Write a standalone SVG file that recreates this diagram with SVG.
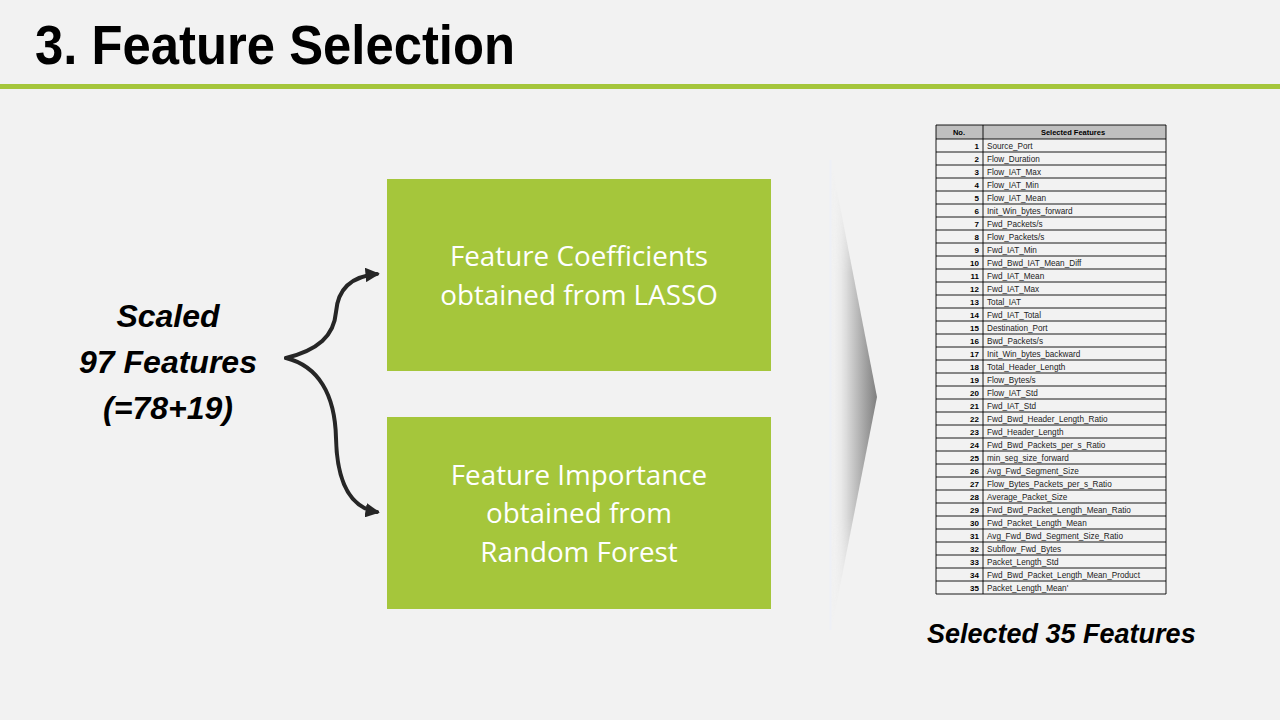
<svg xmlns="http://www.w3.org/2000/svg" width="1280" height="720" viewBox="0 0 1280 720">
  <defs>
    <style>
      .title { font-family: "Liberation Sans", Arial, sans-serif; font-weight: bold; font-size: 56px; fill: #000; }
      .bi { font-family: "Liberation Sans", Arial, sans-serif; font-weight: bold; font-style: italic; fill: #000; }
      .box { fill: #a5c63b; }
      .boxtxt { font-family: "Open Sans", "Liberation Sans", sans-serif; font-size: 27.8px; fill: #ffffff; text-anchor: middle; }
      .conn { fill: none; stroke: #262626; stroke-width: 4; stroke-linecap: round; }
      .cell { font-family: "Liberation Sans", Arial, sans-serif; font-size: 8.2px; fill: #222; }
      .num { font-family: "Liberation Sans", Arial, sans-serif; font-size: 8px; font-weight: bold; fill: #000; text-anchor: end; }
      .hdr { font-family: "Liberation Sans", Arial, sans-serif; font-size: 7.5px; font-weight: bold; fill: #000; text-anchor: middle; }
      .grid { stroke: #000; stroke-width: 0.9; }
    </style>
    <marker id="arrow" viewBox="0 0 10 10" refX="8" refY="5" markerWidth="3.6" markerHeight="3.6" orient="auto" markerUnits="strokeWidth">
      <path d="M0,0 L10,5 L0,10 z" fill="#262626"/>
    </marker>
    <linearGradient id="chev" x1="0" y1="0" x2="1" y2="0">
      <stop offset="0" stop-color="#f2f2f2" stop-opacity="0"/>
      <stop offset="0.35" stop-color="#d9d9d9"/>
      <stop offset="1" stop-color="#7f7f7f"/>
    </linearGradient>
    <linearGradient id="chevFade" x1="0" y1="0" x2="0" y2="1">
      <stop offset="0" stop-color="#fff" stop-opacity="0"/>
      <stop offset="0.25" stop-color="#fff" stop-opacity="1"/>
      <stop offset="0.75" stop-color="#fff" stop-opacity="1"/>
      <stop offset="1" stop-color="#fff" stop-opacity="0"/>
    </linearGradient>
    <mask id="chevMask">
      <rect x="820" y="150" width="70" height="490" fill="url(#chevFade)"/>
    </mask>
  </defs>

  <!-- slide background -->
  <rect x="0" y="0" width="1280" height="720" fill="#f2f2f2"/>

  <!-- heading and rule -->
  <text class="title" x="35" y="64" textLength="480" lengthAdjust="spacingAndGlyphs">3. Feature Selection</text>
  <rect x="0" y="84" width="1280" height="5" fill="#a5c63b"/>

  <!-- input label -->
  <g id="input">
    <text class="bi" font-size="32" text-anchor="middle" x="168" y="327">Scaled</text>
    <text class="bi" font-size="32" text-anchor="middle" x="168" y="373">97 Features</text>
    <text class="bi" font-size="32" text-anchor="middle" x="168" y="419">(=78+19)</text>
  </g>

  <!-- method boxes -->
  <g id="lasso">
    <rect class="box" x="387" y="179" width="384" height="192"/>
    <text class="boxtxt" x="579" y="266">Feature Coefficients</text>
    <text class="boxtxt" x="579" y="305">obtained from LASSO</text>
  </g>
  <g id="random-forest">
    <rect class="box" x="387" y="417" width="384" height="192"/>
    <text class="boxtxt" x="579" y="485">Feature Importance</text>
    <text class="boxtxt" x="579" y="523">obtained from</text>
    <text class="boxtxt" x="579" y="562">Random Forest</text>
  </g>

  <!-- brace connectors -->
  <g id="connectors">
    <path class="conn" marker-end="url(#arrow)" d="M286,358 C318,350 334,336 336,312 C338,287 354,276 377,274"/>
    <path class="conn" marker-end="url(#arrow)" d="M286,358 C318,366 335,394 336,438 C337,486 352,508 377,512"/>
  </g>

  <!-- shaded chevron -->
  <g id="chevron">
    <line x1="830.5" y1="160" x2="830.5" y2="630" stroke="#eef0f6" stroke-width="2"/>
    <polygon points="831,160 877,397 831,632" fill="url(#chev)" mask="url(#chevMask)"/>
  </g>

  <!-- selected feature table -->
  <g id="feature-table">
    <rect x="936" y="125" width="230" height="14" fill="#bfbfbf"/>
    <text class="hdr" x="959" y="135">No.</text>
    <text class="hdr" x="1073" y="135">Selected Features</text>
    <g class="grid">
      <line x1="936" y1="125" x2="1166" y2="125"/>
      <line x1="936" y1="125" x2="936" y2="594"/>
      <line x1="983" y1="125" x2="983" y2="594"/>
      <line x1="1166" y1="125" x2="1166" y2="594"/>
      <line x1="936" y1="139" x2="1166" y2="139"/>
      <line x1="936" y1="152" x2="1166" y2="152"/>
      <line x1="936" y1="165" x2="1166" y2="165"/>
      <line x1="936" y1="178" x2="1166" y2="178"/>
      <line x1="936" y1="191" x2="1166" y2="191"/>
      <line x1="936" y1="204" x2="1166" y2="204"/>
      <line x1="936" y1="217" x2="1166" y2="217"/>
      <line x1="936" y1="230" x2="1166" y2="230"/>
      <line x1="936" y1="243" x2="1166" y2="243"/>
      <line x1="936" y1="256" x2="1166" y2="256"/>
      <line x1="936" y1="269" x2="1166" y2="269"/>
      <line x1="936" y1="282" x2="1166" y2="282"/>
      <line x1="936" y1="295" x2="1166" y2="295"/>
      <line x1="936" y1="308" x2="1166" y2="308"/>
      <line x1="936" y1="321" x2="1166" y2="321"/>
      <line x1="936" y1="334" x2="1166" y2="334"/>
      <line x1="936" y1="347" x2="1166" y2="347"/>
      <line x1="936" y1="360" x2="1166" y2="360"/>
      <line x1="936" y1="373" x2="1166" y2="373"/>
      <line x1="936" y1="386" x2="1166" y2="386"/>
      <line x1="936" y1="399" x2="1166" y2="399"/>
      <line x1="936" y1="412" x2="1166" y2="412"/>
      <line x1="936" y1="425" x2="1166" y2="425"/>
      <line x1="936" y1="438" x2="1166" y2="438"/>
      <line x1="936" y1="451" x2="1166" y2="451"/>
      <line x1="936" y1="464" x2="1166" y2="464"/>
      <line x1="936" y1="477" x2="1166" y2="477"/>
      <line x1="936" y1="490" x2="1166" y2="490"/>
      <line x1="936" y1="503" x2="1166" y2="503"/>
      <line x1="936" y1="516" x2="1166" y2="516"/>
      <line x1="936" y1="529" x2="1166" y2="529"/>
      <line x1="936" y1="542" x2="1166" y2="542"/>
      <line x1="936" y1="555" x2="1166" y2="555"/>
      <line x1="936" y1="568" x2="1166" y2="568"/>
      <line x1="936" y1="581" x2="1166" y2="581"/>
      <line x1="936" y1="594" x2="1166" y2="594"/>
    </g>
    <g>
      <text class="num" x="979" y="149">1</text><text class="cell" x="987" y="149">Source_Port</text>
      <text class="num" x="979" y="162">2</text><text class="cell" x="987" y="162">Flow_Duration</text>
      <text class="num" x="979" y="175">3</text><text class="cell" x="987" y="175">Flow_IAT_Max</text>
      <text class="num" x="979" y="188">4</text><text class="cell" x="987" y="188">Flow_IAT_Min</text>
      <text class="num" x="979" y="201">5</text><text class="cell" x="987" y="201">Flow_IAT_Mean</text>
      <text class="num" x="979" y="214">6</text><text class="cell" x="987" y="214">Init_Win_bytes_forward</text>
      <text class="num" x="979" y="227">7</text><text class="cell" x="987" y="227">Fwd_Packets/s</text>
      <text class="num" x="979" y="240">8</text><text class="cell" x="987" y="240">Flow_Packets/s</text>
      <text class="num" x="979" y="253">9</text><text class="cell" x="987" y="253">Fwd_IAT_Min</text>
      <text class="num" x="979" y="266">10</text><text class="cell" x="987" y="266">Fwd_Bwd_IAT_Mean_Diff</text>
      <text class="num" x="979" y="279">11</text><text class="cell" x="987" y="279">Fwd_IAT_Mean</text>
      <text class="num" x="979" y="292">12</text><text class="cell" x="987" y="292">Fwd_IAT_Max</text>
      <text class="num" x="979" y="305">13</text><text class="cell" x="987" y="305">Total_IAT</text>
      <text class="num" x="979" y="318">14</text><text class="cell" x="987" y="318">Fwd_IAT_Total</text>
      <text class="num" x="979" y="331">15</text><text class="cell" x="987" y="331">Destination_Port</text>
      <text class="num" x="979" y="344">16</text><text class="cell" x="987" y="344">Bwd_Packets/s</text>
      <text class="num" x="979" y="357">17</text><text class="cell" x="987" y="357">Init_Win_bytes_backward</text>
      <text class="num" x="979" y="370">18</text><text class="cell" x="987" y="370">Total_Header_Length</text>
      <text class="num" x="979" y="383">19</text><text class="cell" x="987" y="383">Flow_Bytes/s</text>
      <text class="num" x="979" y="396">20</text><text class="cell" x="987" y="396">Flow_IAT_Std</text>
      <text class="num" x="979" y="409">21</text><text class="cell" x="987" y="409">Fwd_IAT_Std</text>
      <text class="num" x="979" y="422">22</text><text class="cell" x="987" y="422">Fwd_Bwd_Header_Length_Ratio</text>
      <text class="num" x="979" y="435">23</text><text class="cell" x="987" y="435">Fwd_Header_Length</text>
      <text class="num" x="979" y="448">24</text><text class="cell" x="987" y="448">Fwd_Bwd_Packets_per_s_Ratio</text>
      <text class="num" x="979" y="461">25</text><text class="cell" x="987" y="461">min_seg_size_forward</text>
      <text class="num" x="979" y="474">26</text><text class="cell" x="987" y="474">Avg_Fwd_Segment_Size</text>
      <text class="num" x="979" y="487">27</text><text class="cell" x="987" y="487">Flow_Bytes_Packets_per_s_Ratio</text>
      <text class="num" x="979" y="500">28</text><text class="cell" x="987" y="500">Average_Packet_Size</text>
      <text class="num" x="979" y="513">29</text><text class="cell" x="987" y="513">Fwd_Bwd_Packet_Length_Mean_Ratio</text>
      <text class="num" x="979" y="526">30</text><text class="cell" x="987" y="526">Fwd_Packet_Length_Mean</text>
      <text class="num" x="979" y="539">31</text><text class="cell" x="987" y="539">Avg_Fwd_Bwd_Segment_Size_Ratio</text>
      <text class="num" x="979" y="552">32</text><text class="cell" x="987" y="552">Subflow_Fwd_Bytes</text>
      <text class="num" x="979" y="565">33</text><text class="cell" x="987" y="565">Packet_Length_Std</text>
      <text class="num" x="979" y="578">34</text><text class="cell" x="987" y="578">Fwd_Bwd_Packet_Length_Mean_Product</text>
      <text class="num" x="979" y="591">35</text><text class="cell" x="987" y="591">Packet_Length_Mean'</text>
    </g>
  </g>

  <!-- output label -->
  <g id="output">
    <text class="bi" font-size="27" x="927" y="643">Selected 35 Features</text>
  </g>
</svg>
